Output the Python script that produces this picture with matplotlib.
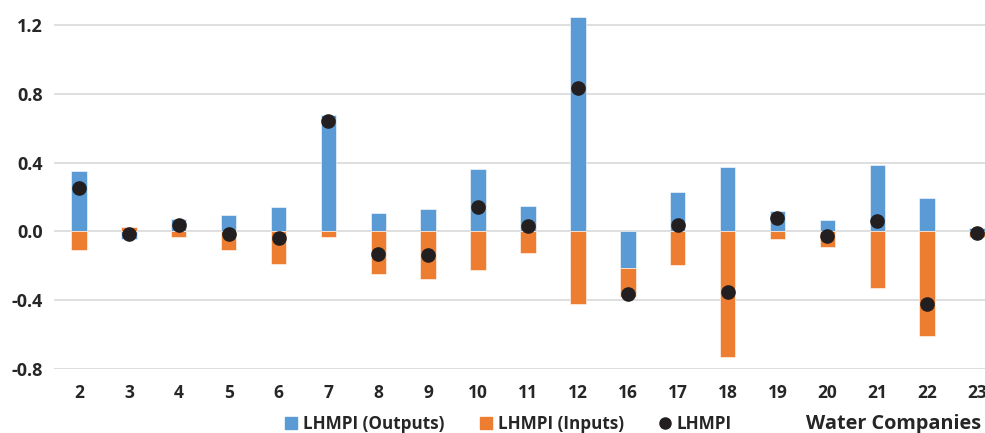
import numpy as np
import matplotlib
matplotlib.use("Agg")
import matplotlib.pyplot as plt
from matplotlib.lines import Line2D

plt.rcParams['font.family'] = ['Open Sans', 'DejaVu Sans']

companies = ["2", "3", "4", "5", "6", "7", "8", "9", "10", "11", "12",
             "16", "17", "18", "19", "20", "21", "22", "23"]
outputs = [0.35, -0.045, 0.07, 0.093, 0.145, 0.675, 0.11, 0.13, 0.365, 0.15, 1.25,
           -0.21, 0.23, 0.375, 0.12, 0.065, 0.385, 0.195, 0.02]
inputs = [-0.105, 0.025, -0.035, -0.11, -0.19, -0.035, -0.245, -0.275, -0.225, -0.125, -0.42,
          -0.17, -0.195, -0.73, -0.045, -0.093, -0.33, -0.61, -0.03]
lhmpi = [0.25, -0.015, 0.04, -0.015, -0.04, 0.645, -0.13, -0.135, 0.145, 0.03, 0.835,
         -0.365, 0.04, -0.35, 0.078, -0.025, 0.06, -0.42, -0.01]

blue = '#5B9BD5'
orange = '#ED7D31'
dark = '#231F20'

x = np.arange(len(companies))
out_arr = np.array(outputs)
inp_arr = np.array(inputs)
# Excel-style stacking: positives stack up, negatives stack down
inp_bottom = np.where(inp_arr >= 0, np.maximum(out_arr, 0), np.minimum(out_arr, 0))

fig = plt.figure(figsize=(9.85, 4.33), dpi=100)
ax = fig.add_axes([54 / 985, 64 / 433, 948 / 985, (369 - 14.5) / 433])

ax.bar(x, out_arr, width=0.31, color=blue, edgecolor='white', linewidth=0.4, zorder=2)
ax.bar(x, inp_arr, bottom=inp_bottom, width=0.31, color=orange, edgecolor='white',
       linewidth=0.4, zorder=2)
ax.plot(x, lhmpi, 'o', color=dark, markersize=9.5, zorder=3)

ax.set_xlim(-0.5, len(companies) - 0.5)
ax.set_ylim(-0.8, 1.262)
ax.set_yticks([-0.8, -0.4, 0.0, 0.4, 0.8, 1.2])
ax.set_yticklabels([f"{v:.1f}" for v in [-0.8, -0.4, 0.0, 0.4, 0.8, 1.2]])
ax.set_xticks(x)
ax.set_xticklabels(companies)
ax.tick_params(axis='both', length=0, colors='#262626')
ax.tick_params(axis='x', pad=11, labelsize=12.5)
ax.tick_params(axis='y', pad=8, labelsize=13)
for lab in ax.get_xticklabels() + ax.get_yticklabels():
    lab.set_fontweight('bold')
# keep the last label inside the picture
ax.get_xticklabels()[-1].set_x(len(companies) - 1.1)

ax.yaxis.grid(True, color='#D9D9D9', linewidth=1.2, zorder=0)
ax.set_axisbelow(True)
for s in ax.spines.values():
    s.set_visible(False)

handles = [
    Line2D([], [], marker='s', color=blue, linestyle='none', markersize=8),
    Line2D([], [], marker='s', color=orange, linestyle='none', markersize=8),
    Line2D([], [], marker='o', color=dark, linestyle='none', markersize=8),
]
fig.legend(handles, ["LHMPI (Outputs)", "LHMPI (Inputs)", "LHMPI"],
           loc='center', bbox_to_anchor=(508 / 985, 1 - 424 / 433), ncol=3,
           frameon=False, handlelength=0.8, handletextpad=0.3, columnspacing=2.0,
           prop={'weight': 'bold', 'size': 12.3}, labelcolor='#262626')
fig.text(981 / 985, 1 - 424 / 433, "Water Companies", ha='right', va='center',
         fontsize=14.3, fontweight='bold', color='#262626')

fig.savefig("out.png", dpi=100)
